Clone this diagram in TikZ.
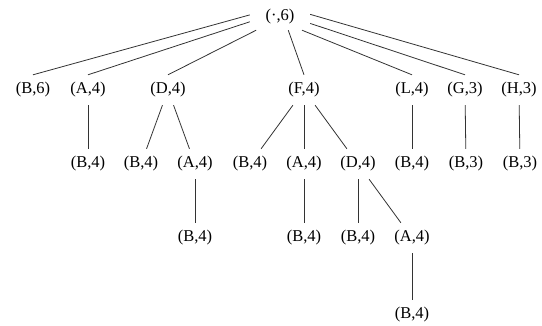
\documentclass[tikz,border=0pt]{standalone}
\usepackage{fontspec}
\setmainfont{Liberation Serif}
\begin{document}
\begin{tikzpicture}[x=1pt,y=-1pt,
  tn/.style={inner xsep=3pt, inner ysep=0pt, minimum height=30pt, font=\fontsize{16.5}{18}\selectfont},
  rn/.style={inner sep=0pt, minimum width=60pt, minimum height=26pt, font=\fontsize{16.5}{18}\selectfont},
  ed/.style={line width=0.8pt, black!80}]
\useasboundingbox (0,0) rectangle (542,326);
\node[rn] (r) at (280,17) {(·,6)};
% level 1
\node[tn] (b6) at (33,90) {(B,6)};
\node[tn] (a1) at (88,90) {(A,4)};
\node[tn] (d1) at (168,90) {(D,4)};
\node[tn] (f1) at (304,90) {(F,4)};
\node[tn] (l1) at (412,90) {(L,4)};
\node[tn] (g1) at (465,90) {(G,3)};
\node[tn] (h1) at (519,90) {(H,3)};
% level 2
\node[tn] (a1b) at (88,164) {(B,4)};
\node[tn] (d1b) at (141,164) {(B,4)};
\node[tn] (d1a) at (195,164) {(A,4)};
\node[tn] (f1b) at (250,164) {(B,4)};
\node[tn] (f1a) at (304,164) {(A,4)};
\node[tn] (f1d) at (358,164) {(D,4)};
\node[tn] (l1b) at (412,164) {(B,4)};
\node[tn] (g1b) at (466,164) {(B,3)};
\node[tn] (h1b) at (520,164) {(B,3)};
% level 3
\node[tn] (d1ab) at (195,238) {(B,4)};
\node[tn] (f1ab) at (304,238) {(B,4)};
\node[tn] (f1db) at (358,238) {(B,4)};
\node[tn] (f1da) at (412,238) {(A,4)};
% level 4
\node[tn] (f1dab) at (412,315) {(B,4)};
% edges from root
\draw[ed] (r.176) -- (b6.north);
\draw[ed] (r.189) -- (a1.north);
\draw[ed] (r.209) -- (d1.north);
\draw[ed] (r.302) -- (f1.north);
\draw[ed] (r.329) -- (l1.north);
\draw[ed] (r.348) -- (g1.north);
\draw[ed] (r.5) -- (h1.north);
% other edges
\draw[ed] (a1) -- (a1b);
\draw[ed] (d1) -- (d1b);
\draw[ed] (d1) -- (d1a);
\draw[ed] (f1) -- (f1b);
\draw[ed] (f1) -- (f1a);
\draw[ed] (f1) -- (f1d);
\draw[ed] (l1) -- (l1b);
\draw[ed] (g1) -- (g1b);
\draw[ed] (h1) -- (h1b);
\draw[ed] (d1a) -- (d1ab);
\draw[ed] (f1a) -- (f1ab);
\draw[ed] (f1d) -- (f1db);
\draw[ed] (f1d) -- (f1da);
\draw[ed] (f1da) -- (f1dab);
\end{tikzpicture}
\end{document}
